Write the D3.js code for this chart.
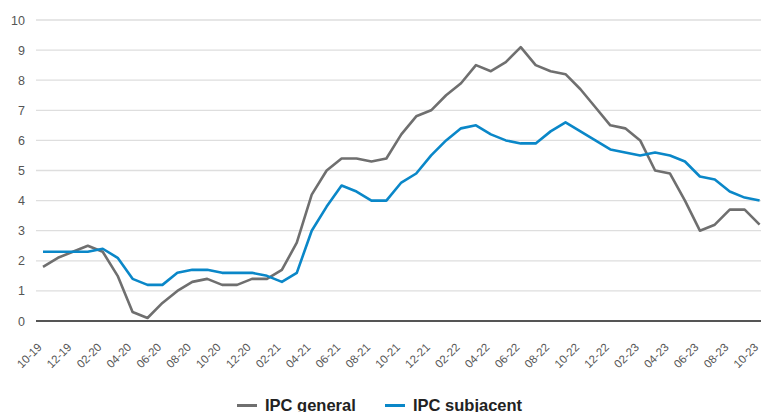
<!DOCTYPE html>
<html>
<head>
<meta charset="utf-8">
<script src="https://cdn.jsdelivr.net/npm/d3@7"></script>
<style>
  html, body { margin: 0; padding: 0; background: #fff; }
  svg { display: block; font-family: "Liberation Sans", Arial, sans-serif; }
</style>
</head>
<body>
<svg id="chart" width="761" height="412"></svg>
<script>
// Months from 10-19 to 10-23 (MM-YY)
const months = [
  "10-19","11-19","12-19","01-20","02-20","03-20","04-20","05-20","06-20","07-20","08-20","09-20",
  "10-20","11-20","12-20","01-21","02-21","03-21","04-21","05-21","06-21","07-21","08-21","09-21",
  "10-21","11-21","12-21","01-22","02-22","03-22","04-22","05-22","06-22","07-22","08-22","09-22",
  "10-22","11-22","12-22","01-23","02-23","03-23","04-23","05-23","06-23","07-23","08-23","09-23",
  "10-23"
];

// Headline CPI, year-on-year %
const ipcGeneral = [
  1.8, 2.1, 2.3, 2.5, 2.3, 1.5, 0.3, 0.1, 0.6, 1.0, 1.3, 1.4,
  1.2, 1.2, 1.4, 1.4, 1.7, 2.6, 4.2, 5.0, 5.4, 5.4, 5.3, 5.4,
  6.2, 6.8, 7.0, 7.5, 7.9, 8.5, 8.3, 8.6, 9.1, 8.5, 8.3, 8.2,
  7.7, 7.1, 6.5, 6.4, 6.0, 5.0, 4.9, 4.0, 3.0, 3.2, 3.7, 3.7,
  3.2
];

// Core CPI, year-on-year %
const ipcSubjacent = [
  2.3, 2.3, 2.3, 2.3, 2.4, 2.1, 1.4, 1.2, 1.2, 1.6, 1.7, 1.7,
  1.6, 1.6, 1.6, 1.5, 1.3, 1.6, 3.0, 3.8, 4.5, 4.3, 4.0, 4.0,
  4.6, 4.9, 5.5, 6.0, 6.4, 6.5, 6.2, 6.0, 5.9, 5.9, 6.3, 6.6,
  6.3, 6.0, 5.7, 5.6, 5.5, 5.6, 5.5, 5.3, 4.8, 4.7, 4.3, 4.1,
  4.0
];

const yTicks = [0, 1, 2, 3, 4, 5, 6, 7, 8, 9, 10];
const xTickLabels = months.filter((m, i) => i % 2 === 0);

const seriesNames = ["IPC general", "IPC subjacent"];
const seriesColors = ["#6f6f6f", "#0a87c8"];

const svg = d3.select("#chart");

const plotLeft = 36, plotRight = 761;
const y = d3.scaleLinear().domain([0, 10]).range([321, 20]);
const x = d3.scalePoint().domain(months).range([43, 759.6]);

// Horizontal gridlines
svg.append("g")
  .selectAll("line")
  .data(yTicks.filter(d => d > 0))
  .join("line")
  .attr("x1", plotLeft).attr("x2", plotRight)
  .attr("y1", d => y(d)).attr("y2", d => y(d))
  .attr("stroke", "#dedede")
  .attr("stroke-width", 1.3);

// Y axis labels
const yAxis = d3.axisLeft(y).tickValues(yTicks).tickSize(0).tickPadding(0);
svg.append("g")
  .attr("transform", "translate(25,0)")
  .call(yAxis)
  .call(g => g.select(".domain").remove())
  .call(g => g.selectAll("text")
    .attr("fill", "#555")
    .attr("font-size", 12.5)
    .attr("font-family", "Liberation Sans, Arial, sans-serif"));

// X axis with rotated labels
const xAxis = d3.axisBottom(x).tickValues(xTickLabels).tickSize(0).tickPadding(0);
svg.append("g")
  .attr("transform", `translate(0,${y(0)})`)
  .call(xAxis)
  .call(g => g.select(".domain").remove())
  .call(g => g.selectAll("text")
    .attr("fill", "#555")
    .attr("font-size", 11.5)
    .attr("font-family", "Liberation Sans, Arial, sans-serif")
    .attr("text-anchor", "end")
    .attr("dy", null)
    .attr("y", 0)
    .attr("transform", "translate(-1,27) rotate(-45)"));

// Zero baseline
svg.append("line")
  .attr("x1", plotLeft).attr("x2", plotRight)
  .attr("y1", y(0)).attr("y2", y(0))
  .attr("stroke", "#555")
  .attr("stroke-width", 2);

// Series lines
const line = d3.line()
  .x((d, i) => x(months[i]))
  .y(d => y(d));

[ipcGeneral, ipcSubjacent].forEach((vals, k) => {
  svg.append("path")
    .datum(vals)
    .attr("fill", "none")
    .attr("stroke", seriesColors[k])
    .attr("stroke-width", 2.6)
    .attr("stroke-linejoin", "round")
    .attr("d", line);
});

// Legend
const legendX = [237, 385];
const legend = svg.append("g");
seriesNames.forEach((name, k) => {
  const g = legend.append("g").attr("transform", `translate(${legendX[k]},405.5)`);
  g.append("line")
    .attr("x1", 0).attr("x2", 20)
    .attr("stroke", seriesColors[k])
    .attr("stroke-width", 3);
  g.append("text")
    .attr("x", 28)
    .attr("y", 5.5)
    .attr("font-size", 16.5)
    .attr("font-weight", "bold")
    .attr("fill", "#222")
    .text(name);
});
</script>
</body>
</html>
